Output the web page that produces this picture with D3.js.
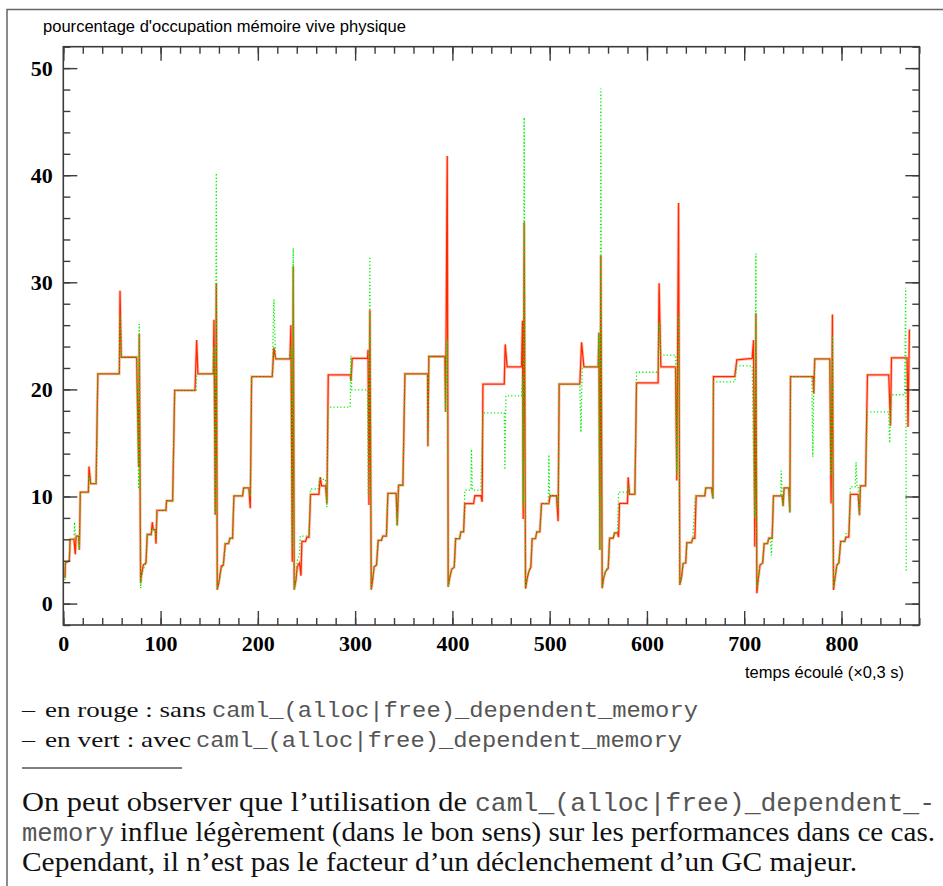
<!DOCTYPE html>
<html>
<head>
<meta charset="utf-8">
<script src="https://cdn.jsdelivr.net/npm/d3@7"></script>
<style>
  body { margin: 0; background: #fff; }
  svg { display: block; }
</style>
</head>
<body>
<svg id="chart"></svg>
<script>
// axes
const xDomain = [0, 880];
const yDomain = [-2, 52];
const xLabels = [0, 100, 200, 300, 400, 500, 600, 700, 800];
const yLabels = [0, 10, 20, 30, 40, 50];

// rouge : sans caml_(alloc|free)_dependent_memory  [temps, %]
const rouge = [
  [1.7,2.4],[2.2,3.8],[6.2,4.0],[7.0,6.0],[11,6.0],[12.3,4.6],[13.2,6.3],[15.8,6.3],[16.5,5.0],[17.5,10.4],[25.8,10.4],[26.4,12.8],[28.2,11.2],[33.7,11.2],[35.5,21.45],[57.6,21.45],[58.3,29.2],[59.6,23.0],[75.4,23.0],[77.5,12.8],[78.1,25.2],[79.5,1.9],
  [80.2,2.6],[82.2,3.6],[85,3.8],[86.3,6.45],[90.4,6.45],[91.5,7.6],[92.5,6.9],[94.5,6.9],[95.3,5.6],[96.3,8.7],[105.5,8.7],[106.2,9.6],[112.4,9.6],[114.5,19.9],[135.4,19.9],[137.1,24.6],[138.4,21.45],[154.2,21.45],[154.9,26.5],[156.2,8.3],[157.3,29.9],[158.3,1.3],
  [160.3,2.2],[162.4,3.5],[164.5,3.6],[166.5,5.6],[169.9,5.6],[171.3,6.1],[174,6.1],[175.4,10.05],[184.3,10.05],[185.4,10.8],[190.8,10.8],[192.2,8.9],[193.6,21.2],[214.8,21.2],[216.5,23.9],[218.3,22.85],[233,22.85],[234,26.0],[235.4,3.9],[236.4,31.5],[237.4,1.3],
  [239.2,2.2],[240.5,3.45],[242.8,3.8],[244.3,2.6],[245.3,5.8],[249,5.8],[250.5,6.2],[252.6,6.2],[254.2,10.2],[262.8,10.2],[264.2,11.8],[265.5,11.0],[269.6,11.0],[271,9.35],[272.4,21.35],[295,21.35],[295.8,20.8],[297,22.9],[312.8,22.9],[313.3,23.7],[314.2,9.2],[315.2,27.4],[316.6,1.3],
  [318,2.2],[319.6,3.45],[322,3.6],[323.7,5.9],[327.1,5.9],[328.5,6.3],[332.2,6.3],[333.7,10.3],[342.2,10.3],[343.3,7.3],[344.7,11.05],[349.1,11.05],[351.2,21.45],[374.5,21.45],[374.8,14.7],[375.8,23.07],[392.3,23.07],[393,17.9],[394.7,41.8],[395.7,1.56],
  [397.4,2.5],[399.2,3.2],[401.9,3.4],[403.3,6.06],[407.4,6.06],[408.7,6.7],[411.5,6.7],[412.8,9.34],[421.8,9.34],[423.1,10.07],[429.3,10.07],[430.6,9.5],[431.4,20.5],[453.3,20.5],[454.3,24.2],[456.3,22.1],[471.1,22.1],[472.1,26.4],[472.8,7.9],[473.8,35.6],[475.2,1.4],
  [476.9,2.35],[478.6,3.0],[480.7,3.4],[482,6.06],[485.4,6.06],[486.8,6.7],[489.9,6.7],[491.6,9.34],[499.2,9.34],[500.5,10.07],[507,10.07],[508.7,7.7],[509.8,20.5],[531,20.5],[532.8,24.4],[535.2,22.1],[549.9,22.1],[550.6,25.3],[551.6,5.0],[552.6,32.5],[554,1.43],
  [555.4,2.35],[557.4,3.0],[560.2,3.3],[561.6,6.1],[565.3,6.1],[566.7,6.6],[569.8,6.6],[570.8,6.2],[571.8,9.35],[580,9.35],[580.7,11.8],[582.1,10.2],[587.6,10.2],[589.3,20.6],[611.5,20.6],[612.5,29.9],[614.3,22.1],[629.4,22.1],[630.7,11.5],[632.5,37.4],[633.8,1.74],
  [635.6,2.5],[637.2,3.75],[639.9,3.8],[641,5.7],[645.8,5.7],[647.2,6.1],[649.3,6.1],[650.6,10.05],[659.5,10.05],[660.5,10.8],[666.4,10.8],[667.8,9.8],[668.4,21.2],[690.3,21.2],[692.4,22.75],[708.2,22.9],[709.6,24.6],[710.9,5.3],[712,27.1],[713,0.97],
  [714.3,2.2],[716.3,3.6],[719,3.8],[720.5,5.6],[723.9,5.6],[725.3,6.1],[728.7,6.1],[730.1,10.05],[739,10.05],[740,9.1],[741,10.8],[745.8,10.8],[746.9,8.5],[747.6,21.2],[770.8,21.2],[771.5,19.6],[772.5,22.85],[788,22.85],[789.3,9.35],[790.7,27.0],[791.8,1.28],
  [793.1,2.2],[795.2,3.6],[797.3,3.8],[799.2,5.8],[803.3,5.8],[804.7,6.2],[807.5,6.2],[809.2,10.2],[817.1,10.2],[818.5,8.25],[819.5,11.0],[824.7,11.0],[826.7,21.35],[848.6,21.35],[850.4,16.6],[851.4,22.95],[867.4,22.95],[868.4,16.5],[869.8,25.6]
];

// vert : avec caml_(alloc|free)_dependent_memory
const vert = [
  [1.7,2.2],[2.2,3.8],[6.2,4.0],[7.0,6.0],[11,6.0],[11.6,7.6],[12.3,6.4],[13.2,6.3],[15.8,6.3],[16.5,5.0],[17.5,10.4],[25.8,10.4],[26.4,12.0],[28.2,11.2],[33.7,11.2],[35.5,21.45],[57.6,21.45],[58.3,26.9],[59.6,23.0],[75.4,23.0],[77.5,10.7],[78.1,26.1],[79.5,1.43],
  [80.2,2.4],[82.2,3.2],[85,3.8],[86.3,6.45],[90.4,6.45],[91.5,7.0],[94.5,6.9],[95.3,6.2],[96.3,8.7],[105.5,8.7],[106.2,9.6],[112.4,9.6],[114.5,19.9],[136.5,19.9],[137.1,21.45],[154.2,21.45],[154.9,24],[156.2,8.3],[157.3,40.2],[158.3,1.3],
  [160.3,2.0],[162.4,3.2],[164.5,3.6],[166.5,5.6],[169.9,5.6],[171.3,6.1],[174,6.1],[175.4,10.05],[184.3,10.05],[185.4,10.8],[190.8,10.8],[192.2,10.0],[193.6,21.2],[214.8,21.2],[216.5,28.4],[218.3,22.85],[233,22.85],[234,24.0],[235.4,5.0],[236.4,33.2],[237.4,1.3],
  [239.2,2.6],[240.5,4.0],[242.8,4.5],[243.5,6.3],[252.6,6.3],[254.2,10.7],[262,10.7],[263,11.6],[269.6,11.6],[271,9.0],[272.4,18.35],[295,18.35],[295.7,23.15],[296.5,19.95],[312.8,19.95],[313.5,10],[315.2,32.4],[316.6,1.3],
  [318,2.2],[319.6,3.45],[322,3.6],[323.7,5.9],[327.1,5.9],[328.5,6.3],[332.2,6.3],[333.7,10.3],[342.2,10.3],[343.3,7.3],[344.7,11.05],[349.1,11.05],[351.2,21.45],[374.5,21.45],[374.8,14.7],[375.8,23.07],[392.3,23.07],[393,17.9],[394.7,24.7],[395.7,1.56],
  [397.4,2.5],[399.2,3.2],[401.9,3.4],[403.3,6.06],[407.4,6.06],[408.7,6.7],[411.5,6.7],[412.8,10.6],[419,10.6],[419.6,14.4],[420.5,10.6],[429.3,10.6],[431.4,17.8],[453.3,17.8],[454,12.5],[455,19.4],[471.1,19.4],[472.1,21],[472.8,9],[473.8,45.4],[475.2,1.4],
  [476.9,2.35],[478.6,3.0],[480.7,3.8],[482,6.06],[485.4,6.06],[486.8,6.7],[489.9,6.7],[491.6,9.34],[498.5,9.34],[499.2,13.9],[500,10.07],[507,10.07],[508.7,9],[509.8,20.5],[531,20.5],[532.2,16.0],[533.5,22.1],[549.9,22.1],[550.6,25.3],[551.6,5.0],[552.6,48.1],[554,1.43],
  [555.4,2.35],[557.4,3.0],[560.2,3.5],[561.6,6.1],[565.3,6.1],[566.7,6.6],[569.8,6.6],[570.8,10.4],[580,10.4],[580.7,11.0],[582.1,10.2],[587.6,10.2],[589.3,21.6],[611.5,21.6],[612.5,26.3],[614.3,23.2],[629.4,23.2],[630.7,12],[632.5,27.0],[633.8,1.74],
  [635.6,2.5],[637.2,3.75],[639.9,3.8],[641,5.7],[645.8,5.7],[647.2,6.1],[649.3,9.7],[650.6,10.05],[659.5,10.05],[660.5,10.8],[666.4,10.8],[667.8,9.8],[668.4,20.7],[690.3,20.7],[692.4,22.2],[708.2,22.2],[709.6,14],[710.9,8],[712,32.7],[713,1.5],
  [714.3,2.2],[716.3,3.6],[719,3.8],[720.5,5.6],[723.9,5.6],[725.3,6.1],[727,6.1],[728,4.5],[728.7,6.1],[730.1,10.05],[737.5,10.05],[738,12.4],[739,10.05],[740,9.1],[741,10.8],[745.8,10.8],[746.9,8.5],[747.6,21.2],[769.5,21.2],[770.5,13.7],[771.5,19.6],[772.5,22.85],[788,22.85],[789.3,12],[790.7,25],[791.8,1.5],
  [793.1,2.2],[795.2,3.6],[797.3,3.8],[799.2,5.8],[803.3,5.8],[804.7,6.6],[807.5,6.6],[809.2,10.9],[814,10.9],[815,13.2],[816,10.9],[817.1,10.9],[818.5,8.25],[819.5,11.0],[824.7,11.0],[826.7,17.9],[848.6,17.9],[849.5,15.0],[851.4,19.5],[865,19.5],[866,29.5],[866.6,3.1]
];

const titre = "pourcentage d'occupation mémoire vive physique";
const titreX = "temps écoulé (×0,3 s)";

const width = 943;
const height = 886;
const plot = { left: 63.3, right: 919.3, top: 46.7, bottom: 625 };

const svg = d3.select("#chart")
  .attr("width", width)
  .attr("height", height)
  .attr("viewBox", [0, 0, width, height]);

svg.append("rect").attr("width", width).attr("height", height).attr("fill", "#fff");

// cadre de la page
svg.append("path")
  .attr("d", `M7,886 V9.5 H943`)
  .attr("fill", "none")
  .attr("stroke", "#666")
  .attr("stroke-width", 1.5);

const x = d3.scaleLinear().domain(xDomain).range([plot.left, plot.right]);
const y = d3.scaleLinear().domain(yDomain).range([plot.bottom, plot.top]);

svg.append("text")
  .attr("x", 43)
  .attr("y", 32)
  .attr("font-family", "Liberation Sans, Arial, sans-serif")
  .attr("font-size", 16.5)
  .attr("textLength", 363)
  .attr("lengthAdjust", "spacingAndGlyphs")
  .text(titre);

svg.append("text")
  .attr("x", 745)
  .attr("y", 678)
  .attr("font-family", "Liberation Sans, Arial, sans-serif")
  .attr("font-size", 16.5)
  .attr("textLength", 159)
  .attr("lengthAdjust", "spacingAndGlyphs")
  .text(titreX);

// courbes
svg.append("clipPath").attr("id", "clip")
  .append("rect")
  .attr("x", plot.left).attr("y", plot.top)
  .attr("width", plot.right - plot.left).attr("height", plot.bottom - plot.top);

const line = d3.line().x((d) => x(d[0])).y((d) => y(d[1]));
const g = svg.append("g").attr("clip-path", "url(#clip)");

g.append("path")
  .datum(rouge)
  .attr("d", line)
  .attr("fill", "none")
  .attr("stroke", "#ff9a85")
  .attr("stroke-width", 3)
  .attr("stroke-opacity", 0.55);

g.append("path")
  .datum(rouge)
  .attr("d", line)
  .attr("fill", "none")
  .attr("stroke", "#ff2a00")
  .attr("stroke-width", 1.3);

g.append("path")
  .datum(vert)
  .attr("d", line)
  .attr("fill", "none")
  .attr("stroke", "#00f000")
  .attr("stroke-width", 1.3)
  .attr("stroke-dasharray", "1.2,2.2");

// axes (graduations vers l'intérieur, sur les quatre côtés)
const xMinor = d3.range(xDomain[0], xDomain[1] + 1, 20);
const yMinor = d3.range(yDomain[0], yDomain[1] + 0.1, 2);
const axisColor = "#3c3c3c";

function drawAxis(axis, tx, ty) {
  const a = svg.append("g")
    .attr("transform", `translate(${tx},${ty})`)
    .call(axis);
  a.select(".domain").remove();
  a.selectAll("line").attr("stroke", axisColor).attr("stroke-width", 1.4);
  return a;
}

drawAxis(d3.axisBottom(x).tickValues(xMinor).tickSize(-7).tickFormat(""), 0, plot.bottom);
drawAxis(d3.axisTop(x).tickValues(xMinor).tickSize(-7).tickFormat(""), 0, plot.top);
drawAxis(d3.axisLeft(y).tickValues(yMinor).tickSize(-7).tickFormat(""), plot.left, 0);
drawAxis(d3.axisRight(y).tickValues(yMinor).tickSize(-7).tickFormat(""), plot.right, 0);

const xAxis = drawAxis(
  d3.axisBottom(x).tickValues(xLabels).tickSize(-14).tickPadding(10.5).tickFormat(d3.format("d")),
  0, plot.bottom);
drawAxis(d3.axisTop(x).tickValues(xLabels).tickSize(-14).tickFormat(""), 0, plot.top);
const yAxis = drawAxis(
  d3.axisLeft(y).tickValues(yLabels).tickSize(-14).tickPadding(10.5).tickFormat(d3.format("d")),
  plot.left, 0);
drawAxis(d3.axisRight(y).tickValues(yLabels).tickSize(-14).tickFormat(""), plot.right, 0);

[xAxis, yAxis].forEach((a) =>
  a.selectAll("text")
    .attr("fill", "#000")
    .attr("font-family", "Liberation Serif, Times New Roman, serif")
    .attr("font-weight", "bold")
    .attr("font-size", 22));

svg.append("rect")
  .attr("x", plot.left).attr("y", plot.top)
  .attr("width", plot.right - plot.left).attr("height", plot.bottom - plot.top)
  .attr("fill", "none")
  .attr("stroke", axisColor)
  .attr("stroke-width", 1.6);

// légende et commentaire
const serif = "Liberation Serif, Times New Roman, serif";
const mono = "Liberation Mono, Courier New, monospace";
const morceaux = [
  { t: "–", x: 22, y: 717, w: 13, f: serif, s: 22 },
  { t: "en rouge : sans", x: 45, y: 717, w: 161, f: serif, s: 22 },
  { t: "caml_(alloc|free)_dependent_memory", x: 212, y: 717, w: 486, f: mono, s: 22 },
  { t: "–", x: 22, y: 747, w: 13, f: serif, s: 22 },
  { t: "en vert : avec", x: 45, y: 747, w: 146, f: serif, s: 22 },
  { t: "caml_(alloc|free)_dependent_memory", x: 196, y: 747, w: 486, f: mono, s: 22 },
  { t: "On peut observer que l’utilisation de", x: 22, y: 811, w: 445, f: serif, s: 27 },
  { t: "caml_(alloc|free)_dependent_-", x: 475, y: 811, w: 460, f: mono, s: 25 },
  { t: "memory", x: 22, y: 841, w: 92, f: mono, s: 25 },
  { t: "influe légèrement (dans le bon sens) sur les performances dans ce cas.", x: 120, y: 841, w: 815, f: serif, s: 27 },
  { t: "Cependant, il n’est pas le facteur d’un déclenchement d’un GC majeur.", x: 22, y: 871, w: 835, f: serif, s: 27 }
];

svg.append("g")
  .selectAll("text")
  .data(morceaux)
  .join("text")
  .attr("x", (d) => d.x)
  .attr("y", (d) => d.y)
  .attr("font-family", (d) => d.f)
  .attr("font-size", (d) => d.s)
  .attr("fill", (d) => (d.f === mono ? "#555" : "#111"))
  .attr("textLength", (d) => d.w)
  .attr("lengthAdjust", "spacingAndGlyphs")
  .text((d) => d.t);

svg.append("line")
  .attr("x1", 22).attr("x2", 182)
  .attr("y1", 768).attr("y2", 768)
  .attr("stroke", "#000")
  .attr("stroke-width", 1);
</script>
</body>
</html>
